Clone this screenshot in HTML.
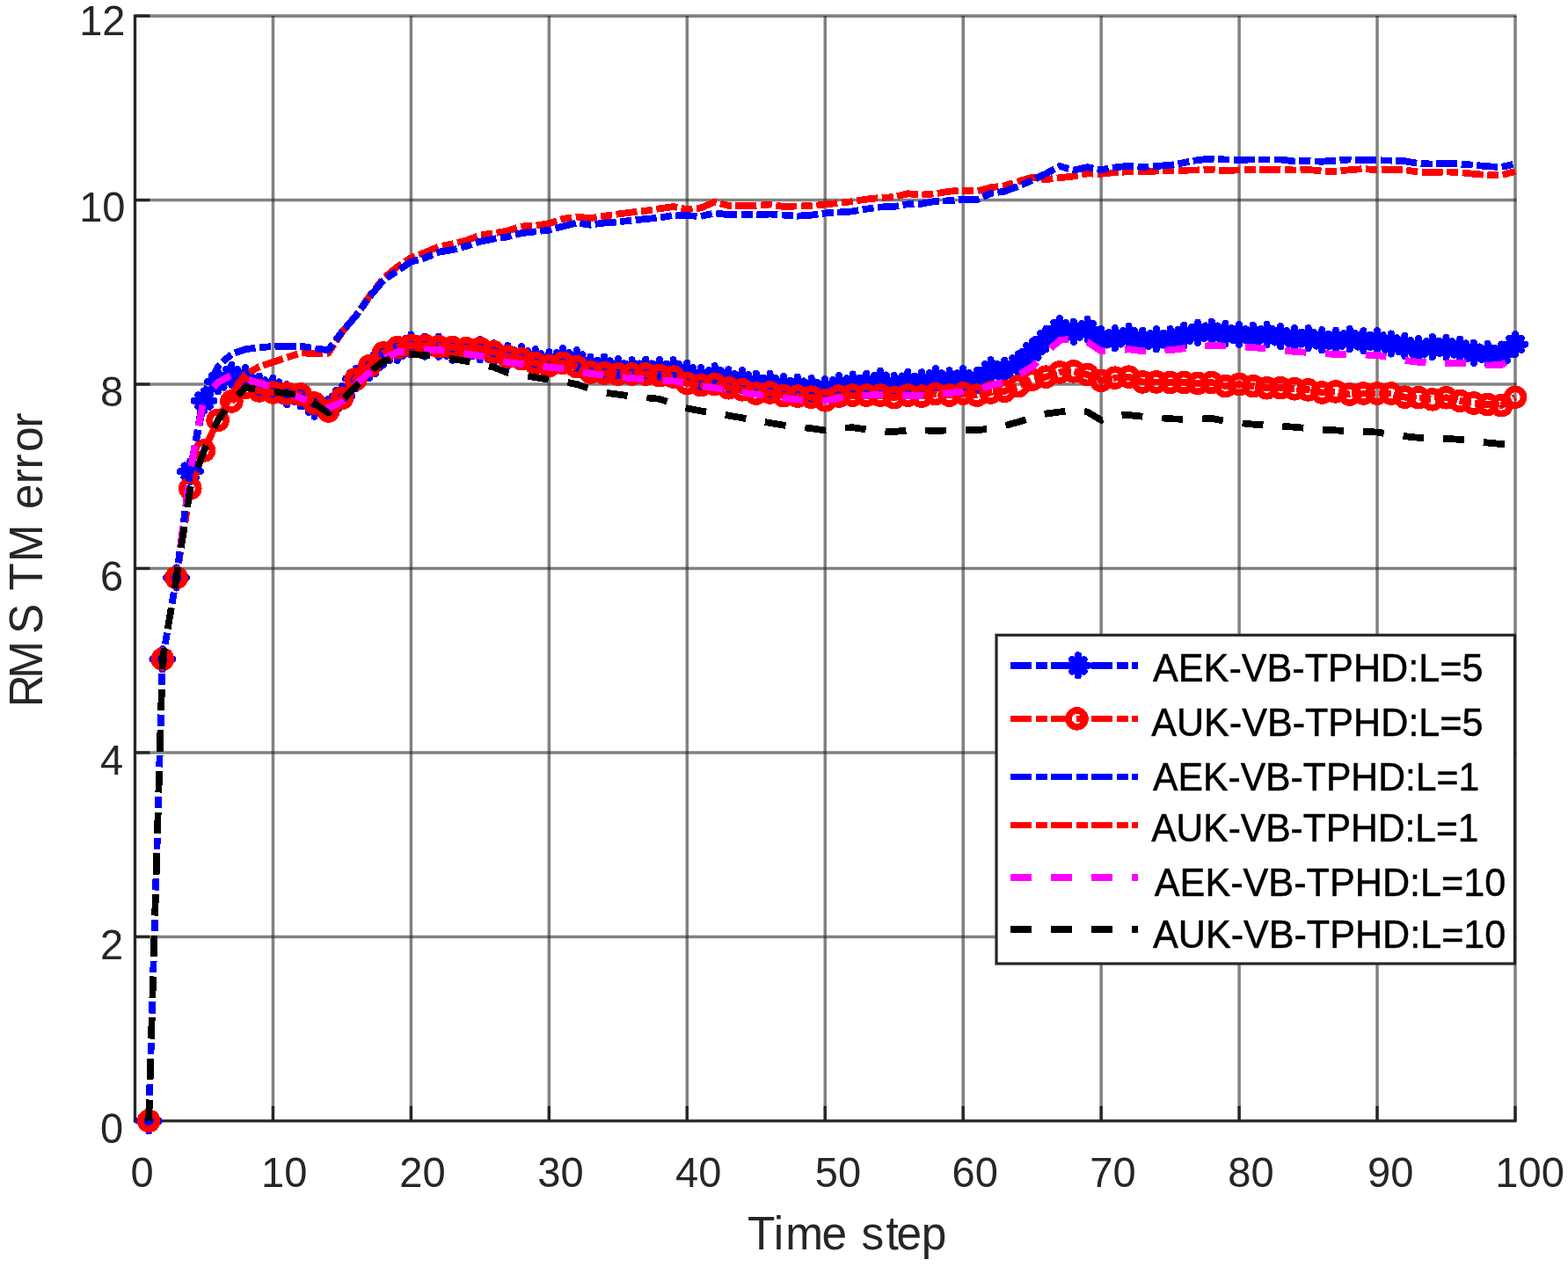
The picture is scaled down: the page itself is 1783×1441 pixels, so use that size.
<!DOCTYPE html>
<html lang="en"><head><meta charset="utf-8"><title>RMS TM error vs Time step</title>
<style>html,body{margin:0;padding:0;background:#fff}body{width:1783px;height:1441px;overflow:hidden}svg{display:block}text{font-family:"Liberation Sans",sans-serif;fill:#262626}</style>
</head><body>
<svg width="1783" height="1441" viewBox="0 0 1783 1441">
<rect x="0" y="0" width="1783" height="1441" fill="#fff"/>
<g stroke="rgba(38,38,38,0.58)" stroke-width="3.5" fill="none">
<line x1="310.45" y1="18.10" x2="310.45" y2="1273.40"/>
<line x1="467.40" y1="18.10" x2="467.40" y2="1273.40"/>
<line x1="624.35" y1="18.10" x2="624.35" y2="1273.40"/>
<line x1="781.30" y1="18.10" x2="781.30" y2="1273.40"/>
<line x1="938.25" y1="18.10" x2="938.25" y2="1273.40"/>
<line x1="1095.20" y1="18.10" x2="1095.20" y2="1273.40"/>
<line x1="1252.15" y1="18.10" x2="1252.15" y2="1273.40"/>
<line x1="1409.10" y1="18.10" x2="1409.10" y2="1273.40"/>
<line x1="1566.05" y1="18.10" x2="1566.05" y2="1273.40"/>
<line x1="1723.00" y1="18.10" x2="1723.00" y2="1273.40"/>
<line x1="155.00" y1="1065.43" x2="1724.50" y2="1065.43"/>
<line x1="155.00" y1="855.97" x2="1724.50" y2="855.97"/>
<line x1="155.00" y1="646.50" x2="1724.50" y2="646.50"/>
<line x1="155.00" y1="437.03" x2="1724.50" y2="437.03"/>
<line x1="155.00" y1="227.57" x2="1724.50" y2="227.57"/>
</g>
<line x1="155.00" y1="18.10" x2="1724.50" y2="18.10" stroke="rgba(38,38,38,0.58)" stroke-width="3.6"/>
<g stroke="#262626" stroke-width="3.3" fill="none" stroke-linecap="butt">
<line x1="153.50" y1="16.60" x2="153.50" y2="1276.50"/>
<line x1="151.90" y1="1274.90" x2="1724.60" y2="1274.90"/>
<line x1="310.45" y1="1274.90" x2="310.45" y2="1257.90"/>
<line x1="467.40" y1="1274.90" x2="467.40" y2="1257.90"/>
<line x1="624.35" y1="1274.90" x2="624.35" y2="1257.90"/>
<line x1="781.30" y1="1274.90" x2="781.30" y2="1257.90"/>
<line x1="938.25" y1="1274.90" x2="938.25" y2="1257.90"/>
<line x1="1095.20" y1="1274.90" x2="1095.20" y2="1257.90"/>
<line x1="1252.15" y1="1274.90" x2="1252.15" y2="1257.90"/>
<line x1="1409.10" y1="1274.90" x2="1409.10" y2="1257.90"/>
<line x1="1566.05" y1="1274.90" x2="1566.05" y2="1257.90"/>
<line x1="1723.00" y1="1274.90" x2="1723.00" y2="1257.90"/>
<line x1="153.50" y1="1065.43" x2="170.50" y2="1065.43"/>
<line x1="153.50" y1="855.97" x2="170.50" y2="855.97"/>
<line x1="153.50" y1="646.50" x2="170.50" y2="646.50"/>
<line x1="153.50" y1="437.03" x2="170.50" y2="437.03"/>
<line x1="153.50" y1="227.57" x2="170.50" y2="227.57"/>
<line x1="153.50" y1="18.10" x2="170.50" y2="18.10"/>
</g>
<g shape-rendering="crispEdges">
<path d="M169.2 1274.9 L184.9 749.7 L200.6 657.0 L216.3 536.2 L232.0 455.9" fill="none" stroke="#0000ff" stroke-width="7.8" stroke-dasharray="24.37 4.57 13.20 4.57" stroke-dashoffset="0.00" stroke-linejoin="round"/><path d="M232.0 455.9 L247.7 433.9 L263.4 426.6 L279.1 429.7 L294.8 439.1 L310.4 441.2 L326.1 448.6 L341.8 450.6 L357.5 462.2 L373.2 465.3 L388.9 450.6 L404.6 430.7 L420.3 418.2 L436.0 403.5 L451.7 398.3 L467.4 392.0 L483.1 394.1 L498.8 394.1 L514.5 398.3 L530.2 398.3 L545.9 397.8 L561.6 401.9 L577.3 404.6 L593.0 405.6 L608.7 408.8 L624.4 411.9 L640.0 407.7 L655.7 409.8 L671.4 417.1 L687.1 417.1 L702.8 419.8 L718.5 420.8 L734.2 420.3 L749.9 420.8 L765.6 420.8 L781.3 424.5 L797.0 429.7 L812.7 427.6 L828.4 431.8 L844.1 432.8 L859.8 436.5 L875.5 436.5 L891.2 439.7 L906.9 440.2 L922.6 441.7 L938.2 442.8 L953.9 438.6 L969.6 437.0 L985.3 436.5 L1001.0 433.4 L1016.7 438.6 L1032.4 434.4 L1048.1 434.9 L1063.8 430.7 L1079.5 432.8 L1095.2 430.7 L1110.9 432.8 L1126.6 420.8 L1142.3 421.3 L1158.0 414.0 L1173.7 399.9 L1189.4 385.7 L1205.1 373.5 L1220.8 377.3 L1236.5 374.7 L1252.2 385.7 L1267.8 384.7 L1283.5 382.6 L1299.2 387.3 L1314.9 385.7 L1330.6 385.7 L1346.3 381.5 L1362.0 378.4 L1377.7 377.3 L1393.4 379.4 L1409.1 380.5 L1424.8 381.5 L1440.5 380.5 L1456.2 382.6 L1471.9 384.7 L1487.6 384.7 L1503.3 386.8 L1519.0 387.3 L1534.7 385.7 L1550.4 387.8 L1566.0 387.8 L1581.7 391.0 L1597.4 393.6 L1613.1 396.7 L1628.8 394.6 L1644.5 395.1 L1660.2 397.2 L1675.9 401.4 L1691.6 402.5 L1707.3 403.0 L1723.0 391.5" fill="none" stroke="#0000ff" stroke-width="7.8" stroke-dasharray="24.10 4.52 13.06 4.52" stroke-dashoffset="37.76" stroke-linejoin="round"/>
<path d="M157.7 1274.9h23.0M169.2 1263.3v23.2M162.5 1268.2l13.4 13.4M162.5 1281.6l13.4 -13.4M173.4 749.7h23.0M184.9 738.1v23.2M178.2 743.0l13.4 13.4M178.2 756.4l13.4 -13.4M189.1 657.0h23.0M200.6 645.4v23.2M193.9 650.3l13.4 13.4M193.9 663.7l13.4 -13.4M204.8 536.2h23.0M216.3 524.6v23.2M209.6 529.5l13.4 13.4M209.6 542.9l13.4 -13.4M220.5 455.9h23.0M232.0 444.3v23.2M225.3 449.2l13.4 13.4M225.3 462.6l13.4 -13.4M236.2 433.9h23.0M247.7 422.3v23.2M241.0 427.2l13.4 13.4M241.0 440.6l13.4 -13.4M251.9 426.6h23.0M263.4 415.0v23.2M256.7 419.9l13.4 13.4M256.7 433.3l13.4 -13.4M267.6 429.7h23.0M279.1 418.1v23.2M272.4 423.0l13.4 13.4M272.4 436.4l13.4 -13.4M283.3 439.1h23.0M294.8 427.5v23.2M288.1 432.4l13.4 13.4M288.1 445.8l13.4 -13.4M298.9 441.2h23.0M310.4 429.6v23.2M303.8 434.5l13.4 13.4M303.8 447.9l13.4 -13.4M314.6 448.6h23.0M326.1 437.0v23.2M319.4 441.9l13.4 13.4M319.4 455.3l13.4 -13.4M330.3 450.6h23.0M341.8 439.0v23.2M335.1 443.9l13.4 13.4M335.1 457.3l13.4 -13.4M346.0 462.2h23.0M357.5 450.6v23.2M350.8 455.5l13.4 13.4M350.8 468.9l13.4 -13.4M361.7 465.3h23.0M373.2 453.7v23.2M366.5 458.6l13.4 13.4M366.5 472.0l13.4 -13.4M377.4 450.6h23.0M388.9 439.0v23.2M382.2 443.9l13.4 13.4M382.2 457.3l13.4 -13.4M393.1 430.7h23.0M404.6 419.1v23.2M397.9 424.0l13.4 13.4M397.9 437.4l13.4 -13.4M408.8 418.2h23.0M420.3 406.6v23.2M413.6 411.5l13.4 13.4M413.6 424.9l13.4 -13.4M424.5 403.5h23.0M436.0 391.9v23.2M429.3 396.8l13.4 13.4M429.3 410.2l13.4 -13.4M440.2 398.3h23.0M451.7 386.7v23.2M445.0 391.6l13.4 13.4M445.0 405.0l13.4 -13.4M455.9 392.0h23.0M467.4 380.4v23.2M460.7 385.3l13.4 13.4M460.7 398.7l13.4 -13.4M471.6 394.1h23.0M483.1 382.5v23.2M476.4 387.4l13.4 13.4M476.4 400.8l13.4 -13.4M487.3 394.1h23.0M498.8 382.5v23.2M492.1 387.4l13.4 13.4M492.1 400.8l13.4 -13.4M503.0 398.3h23.0M514.5 386.7v23.2M507.8 391.6l13.4 13.4M507.8 405.0l13.4 -13.4M518.7 398.3h23.0M530.2 386.7v23.2M523.5 391.6l13.4 13.4M523.5 405.0l13.4 -13.4M534.4 397.8h23.0M545.9 386.2v23.2M539.2 391.1l13.4 13.4M539.2 404.5l13.4 -13.4M550.1 401.9h23.0M561.6 390.3v23.2M554.9 395.2l13.4 13.4M554.9 408.6l13.4 -13.4M565.8 404.6h23.0M577.3 393.0v23.2M570.6 397.9l13.4 13.4M570.6 411.3l13.4 -13.4M581.5 405.6h23.0M593.0 394.0v23.2M586.3 398.9l13.4 13.4M586.3 412.3l13.4 -13.4M597.2 408.8h23.0M608.7 397.2v23.2M602.0 402.1l13.4 13.4M602.0 415.5l13.4 -13.4M612.9 411.9h23.0M624.4 400.3v23.2M617.6 405.2l13.4 13.4M617.6 418.6l13.4 -13.4M628.5 407.7h23.0M640.0 396.1v23.2M633.3 401.0l13.4 13.4M633.3 414.4l13.4 -13.4M644.2 409.8h23.0M655.7 398.2v23.2M649.0 403.1l13.4 13.4M649.0 416.5l13.4 -13.4M659.9 417.1h23.0M671.4 405.5v23.2M664.7 410.4l13.4 13.4M664.7 423.8l13.4 -13.4M675.6 417.1h23.0M687.1 405.5v23.2M680.4 410.4l13.4 13.4M680.4 423.8l13.4 -13.4M691.3 419.8h23.0M702.8 408.2v23.2M696.1 413.1l13.4 13.4M696.1 426.5l13.4 -13.4M707.0 420.8h23.0M718.5 409.2v23.2M711.8 414.1l13.4 13.4M711.8 427.5l13.4 -13.4M722.7 420.3h23.0M734.2 408.7v23.2M727.5 413.6l13.4 13.4M727.5 427.0l13.4 -13.4M738.4 420.8h23.0M749.9 409.2v23.2M743.2 414.1l13.4 13.4M743.2 427.5l13.4 -13.4M754.1 420.8h23.0M765.6 409.2v23.2M758.9 414.1l13.4 13.4M758.9 427.5l13.4 -13.4M769.8 424.5h23.0M781.3 412.9v23.2M774.6 417.8l13.4 13.4M774.6 431.2l13.4 -13.4M785.5 429.7h23.0M797.0 418.1v23.2M790.3 423.0l13.4 13.4M790.3 436.4l13.4 -13.4M801.2 427.6h23.0M812.7 416.0v23.2M806.0 420.9l13.4 13.4M806.0 434.3l13.4 -13.4M816.9 431.8h23.0M828.4 420.2v23.2M821.7 425.1l13.4 13.4M821.7 438.5l13.4 -13.4M832.6 432.8h23.0M844.1 421.2v23.2M837.4 426.1l13.4 13.4M837.4 439.5l13.4 -13.4M848.3 436.5h23.0M859.8 424.9v23.2M853.1 429.8l13.4 13.4M853.1 443.2l13.4 -13.4M864.0 436.5h23.0M875.5 424.9v23.2M868.8 429.8l13.4 13.4M868.8 443.2l13.4 -13.4M879.7 439.7h23.0M891.2 428.1v23.2M884.5 433.0l13.4 13.4M884.5 446.4l13.4 -13.4M895.4 440.2h23.0M906.9 428.6v23.2M900.2 433.5l13.4 13.4M900.2 446.9l13.4 -13.4M911.1 441.7h23.0M922.6 430.1v23.2M915.9 435.0l13.4 13.4M915.9 448.4l13.4 -13.4M926.8 442.8h23.0M938.2 431.2v23.2M931.5 436.1l13.4 13.4M931.5 449.5l13.4 -13.4M942.4 438.6h23.0M953.9 427.0v23.2M947.2 431.9l13.4 13.4M947.2 445.3l13.4 -13.4M958.1 437.0h23.0M969.6 425.4v23.2M962.9 430.3l13.4 13.4M962.9 443.7l13.4 -13.4M973.8 436.5h23.0M985.3 424.9v23.2M978.6 429.8l13.4 13.4M978.6 443.2l13.4 -13.4M989.5 433.4h23.0M1001.0 421.8v23.2M994.3 426.7l13.4 13.4M994.3 440.1l13.4 -13.4M1005.2 438.6h23.0M1016.7 427.0v23.2M1010.0 431.9l13.4 13.4M1010.0 445.3l13.4 -13.4M1020.9 434.4h23.0M1032.4 422.8v23.2M1025.7 427.7l13.4 13.4M1025.7 441.1l13.4 -13.4M1036.6 434.9h23.0M1048.1 423.3v23.2M1041.4 428.2l13.4 13.4M1041.4 441.6l13.4 -13.4M1052.3 430.7h23.0M1063.8 419.1v23.2M1057.1 424.0l13.4 13.4M1057.1 437.4l13.4 -13.4M1068.0 432.8h23.0M1079.5 421.2v23.2M1072.8 426.1l13.4 13.4M1072.8 439.5l13.4 -13.4M1083.7 430.7h23.0M1095.2 419.1v23.2M1088.5 424.0l13.4 13.4M1088.5 437.4l13.4 -13.4M1099.4 432.8h23.0M1110.9 421.2v23.2M1104.2 426.1l13.4 13.4M1104.2 439.5l13.4 -13.4M1115.1 420.8h23.0M1126.6 409.2v23.2M1119.9 414.1l13.4 13.4M1119.9 427.5l13.4 -13.4M1130.8 421.3h23.0M1142.3 409.7v23.2M1135.6 414.6l13.4 13.4M1135.6 428.0l13.4 -13.4M1146.5 414.0h23.0M1158.0 402.4v23.2M1151.3 407.3l13.4 13.4M1151.3 420.7l13.4 -13.4M1162.2 399.9h23.0M1173.7 388.3v23.2M1167.0 393.2l13.4 13.4M1167.0 406.6l13.4 -13.4M1177.9 385.7h23.0M1189.4 374.1v23.2M1182.7 379.0l13.4 13.4M1182.7 392.4l13.4 -13.4M1193.6 373.5h23.0M1205.1 361.9v23.2M1198.4 366.8l13.4 13.4M1198.4 380.2l13.4 -13.4M1209.3 377.3h23.0M1220.8 365.7v23.2M1214.1 370.6l13.4 13.4M1214.1 384.0l13.4 -13.4M1225.0 374.7h23.0M1236.5 363.1v23.2M1229.8 368.0l13.4 13.4M1229.8 381.4l13.4 -13.4M1240.7 385.7h23.0M1252.2 374.1v23.2M1245.5 379.0l13.4 13.4M1245.5 392.4l13.4 -13.4M1256.3 384.7h23.0M1267.8 373.1v23.2M1261.1 378.0l13.4 13.4M1261.1 391.4l13.4 -13.4M1272.0 382.6h23.0M1283.5 371.0v23.2M1276.8 375.9l13.4 13.4M1276.8 389.3l13.4 -13.4M1287.7 387.3h23.0M1299.2 375.7v23.2M1292.5 380.6l13.4 13.4M1292.5 394.0l13.4 -13.4M1303.4 385.7h23.0M1314.9 374.1v23.2M1308.2 379.0l13.4 13.4M1308.2 392.4l13.4 -13.4M1319.1 385.7h23.0M1330.6 374.1v23.2M1323.9 379.0l13.4 13.4M1323.9 392.4l13.4 -13.4M1334.8 381.5h23.0M1346.3 369.9v23.2M1339.6 374.8l13.4 13.4M1339.6 388.2l13.4 -13.4M1350.5 378.4h23.0M1362.0 366.8v23.2M1355.3 371.7l13.4 13.4M1355.3 385.1l13.4 -13.4M1366.2 377.3h23.0M1377.7 365.7v23.2M1371.0 370.6l13.4 13.4M1371.0 384.0l13.4 -13.4M1381.9 379.4h23.0M1393.4 367.8v23.2M1386.7 372.7l13.4 13.4M1386.7 386.1l13.4 -13.4M1397.6 380.5h23.0M1409.1 368.9v23.2M1402.4 373.8l13.4 13.4M1402.4 387.2l13.4 -13.4M1413.3 381.5h23.0M1424.8 369.9v23.2M1418.1 374.8l13.4 13.4M1418.1 388.2l13.4 -13.4M1429.0 380.5h23.0M1440.5 368.9v23.2M1433.8 373.8l13.4 13.4M1433.8 387.2l13.4 -13.4M1444.7 382.6h23.0M1456.2 371.0v23.2M1449.5 375.9l13.4 13.4M1449.5 389.3l13.4 -13.4M1460.4 384.7h23.0M1471.9 373.1v23.2M1465.2 378.0l13.4 13.4M1465.2 391.4l13.4 -13.4M1476.1 384.7h23.0M1487.6 373.1v23.2M1480.9 378.0l13.4 13.4M1480.9 391.4l13.4 -13.4M1491.8 386.8h23.0M1503.3 375.2v23.2M1496.6 380.1l13.4 13.4M1496.6 393.5l13.4 -13.4M1507.5 387.3h23.0M1519.0 375.7v23.2M1512.3 380.6l13.4 13.4M1512.3 394.0l13.4 -13.4M1523.2 385.7h23.0M1534.7 374.1v23.2M1528.0 379.0l13.4 13.4M1528.0 392.4l13.4 -13.4M1538.9 387.8h23.0M1550.4 376.2v23.2M1543.7 381.1l13.4 13.4M1543.7 394.5l13.4 -13.4M1554.5 387.8h23.0M1566.0 376.2v23.2M1559.3 381.1l13.4 13.4M1559.3 394.5l13.4 -13.4M1570.2 391.0h23.0M1581.7 379.4v23.2M1575.0 384.3l13.4 13.4M1575.0 397.7l13.4 -13.4M1585.9 393.6h23.0M1597.4 382.0v23.2M1590.7 386.9l13.4 13.4M1590.7 400.3l13.4 -13.4M1601.6 396.7h23.0M1613.1 385.1v23.2M1606.4 390.0l13.4 13.4M1606.4 403.4l13.4 -13.4M1617.3 394.6h23.0M1628.8 383.0v23.2M1622.1 387.9l13.4 13.4M1622.1 401.3l13.4 -13.4M1633.0 395.1h23.0M1644.5 383.5v23.2M1637.8 388.4l13.4 13.4M1637.8 401.8l13.4 -13.4M1648.7 397.2h23.0M1660.2 385.6v23.2M1653.5 390.5l13.4 13.4M1653.5 403.9l13.4 -13.4M1664.4 401.4h23.0M1675.9 389.8v23.2M1669.2 394.7l13.4 13.4M1669.2 408.1l13.4 -13.4M1680.1 402.5h23.0M1691.6 390.9v23.2M1684.9 395.8l13.4 13.4M1684.9 409.2l13.4 -13.4M1695.8 403.0h23.0M1707.3 391.4v23.2M1700.6 396.3l13.4 13.4M1700.6 409.7l13.4 -13.4M1711.5 391.5h23.0M1723.0 379.9v23.2M1716.3 384.8l13.4 13.4M1716.3 398.2l13.4 -13.4" fill="none" stroke="#0000ff" stroke-width="8.0" stroke-linecap="round"/>
<path d="M169.2 1274.9 L184.9 749.7 L200.6 657.0 L216.3 555.6 L232.0 512.4" fill="none" stroke="#ff0000" stroke-width="7.8" stroke-dasharray="24.37 4.57 13.20 4.57" stroke-dashoffset="0.00" stroke-linejoin="round"/><path d="M232.0 512.4 L247.7 477.9 L263.4 456.4 L279.1 440.7 L294.8 444.4 L310.4 446.5 L326.1 447.5 L341.8 448.6 L357.5 458.5 L373.2 467.4 L388.9 452.7 L404.6 431.3 L420.3 416.1 L436.0 401.4 L451.7 395.1 L467.4 393.0 L483.1 393.0 L498.8 394.1 L514.5 395.1 L530.2 396.2 L545.9 396.2 L561.6 400.4 L577.3 405.6 L593.0 408.2 L608.7 412.9 L624.4 416.1 L640.0 412.9 L655.7 417.1 L671.4 423.4 L687.1 424.5 L702.8 425.5 L718.5 425.5 L734.2 425.5 L749.9 427.1 L765.6 428.7 L781.3 436.0 L797.0 438.1 L812.7 437.0 L828.4 441.2 L844.1 443.3 L859.8 447.5 L875.5 446.5 L891.2 450.1 L906.9 450.6 L922.6 451.7 L938.2 455.4 L953.9 450.6 L969.6 449.6 L985.3 449.6 L1001.0 449.6 L1016.7 452.2 L1032.4 449.6 L1048.1 450.6 L1063.8 448.0 L1079.5 449.6 L1095.2 447.5 L1110.9 449.6 L1126.6 446.5 L1142.3 444.9 L1158.0 439.1 L1173.7 431.8 L1189.4 428.7 L1205.1 423.4 L1220.8 422.4 L1236.5 426.0 L1252.2 432.8 L1267.8 429.7 L1283.5 428.7 L1299.2 434.4 L1314.9 434.4 L1330.6 434.9 L1346.3 434.9 L1362.0 436.0 L1377.7 434.9 L1393.4 439.1 L1409.1 437.0 L1424.8 439.1 L1440.5 441.2 L1456.2 441.2 L1471.9 442.3 L1487.6 443.3 L1503.3 446.5 L1519.0 445.4 L1534.7 448.6 L1550.4 447.5 L1566.0 447.5 L1581.7 447.5 L1597.4 451.7 L1613.1 452.2 L1628.8 454.3 L1644.5 452.2 L1660.2 455.9 L1675.9 458.5 L1691.6 460.1 L1707.3 461.1 L1723.0 451.7" fill="none" stroke="#ff0000" stroke-width="7.8" stroke-dasharray="24.10 4.52 13.06 4.52" stroke-dashoffset="28.84" stroke-linejoin="round"/>
<path d="M159.75 1274.90a9.45 9.45 0 1 0 18.90 0a9.45 9.45 0 1 0 -18.90 0zM175.44 749.66a9.45 9.45 0 1 0 18.90 0a9.45 9.45 0 1 0 -18.90 0zM191.14 656.97a9.45 9.45 0 1 0 18.90 0a9.45 9.45 0 1 0 -18.90 0zM206.83 555.59a9.45 9.45 0 1 0 18.90 0a9.45 9.45 0 1 0 -18.90 0zM222.53 512.44a9.45 9.45 0 1 0 18.90 0a9.45 9.45 0 1 0 -18.90 0zM238.22 477.88a9.45 9.45 0 1 0 18.90 0a9.45 9.45 0 1 0 -18.90 0zM253.92 456.41a9.45 9.45 0 1 0 18.90 0a9.45 9.45 0 1 0 -18.90 0zM269.61 440.70a9.45 9.45 0 1 0 18.90 0a9.45 9.45 0 1 0 -18.90 0zM285.31 444.36a9.45 9.45 0 1 0 18.90 0a9.45 9.45 0 1 0 -18.90 0zM301.00 446.46a9.45 9.45 0 1 0 18.90 0a9.45 9.45 0 1 0 -18.90 0zM316.69 447.51a9.45 9.45 0 1 0 18.90 0a9.45 9.45 0 1 0 -18.90 0zM332.39 448.55a9.45 9.45 0 1 0 18.90 0a9.45 9.45 0 1 0 -18.90 0zM348.08 458.50a9.45 9.45 0 1 0 18.90 0a9.45 9.45 0 1 0 -18.90 0zM363.78 467.41a9.45 9.45 0 1 0 18.90 0a9.45 9.45 0 1 0 -18.90 0zM379.48 452.74a9.45 9.45 0 1 0 18.90 0a9.45 9.45 0 1 0 -18.90 0zM395.17 431.27a9.45 9.45 0 1 0 18.90 0a9.45 9.45 0 1 0 -18.90 0zM410.87 416.09a9.45 9.45 0 1 0 18.90 0a9.45 9.45 0 1 0 -18.90 0zM426.56 401.42a9.45 9.45 0 1 0 18.90 0a9.45 9.45 0 1 0 -18.90 0zM442.25 395.14a9.45 9.45 0 1 0 18.90 0a9.45 9.45 0 1 0 -18.90 0zM457.95 393.05a9.45 9.45 0 1 0 18.90 0a9.45 9.45 0 1 0 -18.90 0zM473.65 393.05a9.45 9.45 0 1 0 18.90 0a9.45 9.45 0 1 0 -18.90 0zM489.34 394.09a9.45 9.45 0 1 0 18.90 0a9.45 9.45 0 1 0 -18.90 0zM505.04 395.14a9.45 9.45 0 1 0 18.90 0a9.45 9.45 0 1 0 -18.90 0zM520.73 396.19a9.45 9.45 0 1 0 18.90 0a9.45 9.45 0 1 0 -18.90 0zM536.42 396.19a9.45 9.45 0 1 0 18.90 0a9.45 9.45 0 1 0 -18.90 0zM552.12 400.38a9.45 9.45 0 1 0 18.90 0a9.45 9.45 0 1 0 -18.90 0zM567.81 405.61a9.45 9.45 0 1 0 18.90 0a9.45 9.45 0 1 0 -18.90 0zM583.51 408.23a9.45 9.45 0 1 0 18.90 0a9.45 9.45 0 1 0 -18.90 0zM599.20 412.94a9.45 9.45 0 1 0 18.90 0a9.45 9.45 0 1 0 -18.90 0zM614.90 416.09a9.45 9.45 0 1 0 18.90 0a9.45 9.45 0 1 0 -18.90 0zM630.60 412.94a9.45 9.45 0 1 0 18.90 0a9.45 9.45 0 1 0 -18.90 0zM646.29 417.13a9.45 9.45 0 1 0 18.90 0a9.45 9.45 0 1 0 -18.90 0zM661.98 423.42a9.45 9.45 0 1 0 18.90 0a9.45 9.45 0 1 0 -18.90 0zM677.68 424.47a9.45 9.45 0 1 0 18.90 0a9.45 9.45 0 1 0 -18.90 0zM693.38 425.51a9.45 9.45 0 1 0 18.90 0a9.45 9.45 0 1 0 -18.90 0zM709.07 425.51a9.45 9.45 0 1 0 18.90 0a9.45 9.45 0 1 0 -18.90 0zM724.76 425.51a9.45 9.45 0 1 0 18.90 0a9.45 9.45 0 1 0 -18.90 0zM740.46 427.08a9.45 9.45 0 1 0 18.90 0a9.45 9.45 0 1 0 -18.90 0zM756.15 428.65a9.45 9.45 0 1 0 18.90 0a9.45 9.45 0 1 0 -18.90 0zM771.85 435.99a9.45 9.45 0 1 0 18.90 0a9.45 9.45 0 1 0 -18.90 0zM787.54 438.08a9.45 9.45 0 1 0 18.90 0a9.45 9.45 0 1 0 -18.90 0zM803.24 437.03a9.45 9.45 0 1 0 18.90 0a9.45 9.45 0 1 0 -18.90 0zM818.93 441.22a9.45 9.45 0 1 0 18.90 0a9.45 9.45 0 1 0 -18.90 0zM834.63 443.32a9.45 9.45 0 1 0 18.90 0a9.45 9.45 0 1 0 -18.90 0zM850.32 447.51a9.45 9.45 0 1 0 18.90 0a9.45 9.45 0 1 0 -18.90 0zM866.02 446.46a9.45 9.45 0 1 0 18.90 0a9.45 9.45 0 1 0 -18.90 0zM881.71 450.12a9.45 9.45 0 1 0 18.90 0a9.45 9.45 0 1 0 -18.90 0zM897.41 450.65a9.45 9.45 0 1 0 18.90 0a9.45 9.45 0 1 0 -18.90 0zM913.10 451.70a9.45 9.45 0 1 0 18.90 0a9.45 9.45 0 1 0 -18.90 0zM928.80 455.36a9.45 9.45 0 1 0 18.90 0a9.45 9.45 0 1 0 -18.90 0zM944.50 450.65a9.45 9.45 0 1 0 18.90 0a9.45 9.45 0 1 0 -18.90 0zM960.19 449.60a9.45 9.45 0 1 0 18.90 0a9.45 9.45 0 1 0 -18.90 0zM975.88 449.60a9.45 9.45 0 1 0 18.90 0a9.45 9.45 0 1 0 -18.90 0zM991.58 449.60a9.45 9.45 0 1 0 18.90 0a9.45 9.45 0 1 0 -18.90 0zM1007.27 452.22a9.45 9.45 0 1 0 18.90 0a9.45 9.45 0 1 0 -18.90 0zM1022.97 449.60a9.45 9.45 0 1 0 18.90 0a9.45 9.45 0 1 0 -18.90 0zM1038.66 450.65a9.45 9.45 0 1 0 18.90 0a9.45 9.45 0 1 0 -18.90 0zM1054.36 448.03a9.45 9.45 0 1 0 18.90 0a9.45 9.45 0 1 0 -18.90 0zM1070.06 449.60a9.45 9.45 0 1 0 18.90 0a9.45 9.45 0 1 0 -18.90 0zM1085.75 447.51a9.45 9.45 0 1 0 18.90 0a9.45 9.45 0 1 0 -18.90 0zM1101.44 449.60a9.45 9.45 0 1 0 18.90 0a9.45 9.45 0 1 0 -18.90 0zM1117.14 446.46a9.45 9.45 0 1 0 18.90 0a9.45 9.45 0 1 0 -18.90 0zM1132.83 444.89a9.45 9.45 0 1 0 18.90 0a9.45 9.45 0 1 0 -18.90 0zM1148.53 439.13a9.45 9.45 0 1 0 18.90 0a9.45 9.45 0 1 0 -18.90 0zM1164.22 431.80a9.45 9.45 0 1 0 18.90 0a9.45 9.45 0 1 0 -18.90 0zM1179.92 428.65a9.45 9.45 0 1 0 18.90 0a9.45 9.45 0 1 0 -18.90 0zM1195.62 423.42a9.45 9.45 0 1 0 18.90 0a9.45 9.45 0 1 0 -18.90 0zM1211.31 422.37a9.45 9.45 0 1 0 18.90 0a9.45 9.45 0 1 0 -18.90 0zM1227.00 426.04a9.45 9.45 0 1 0 18.90 0a9.45 9.45 0 1 0 -18.90 0zM1242.70 432.84a9.45 9.45 0 1 0 18.90 0a9.45 9.45 0 1 0 -18.90 0zM1258.39 429.70a9.45 9.45 0 1 0 18.90 0a9.45 9.45 0 1 0 -18.90 0zM1274.09 428.65a9.45 9.45 0 1 0 18.90 0a9.45 9.45 0 1 0 -18.90 0zM1289.78 434.41a9.45 9.45 0 1 0 18.90 0a9.45 9.45 0 1 0 -18.90 0zM1305.48 434.41a9.45 9.45 0 1 0 18.90 0a9.45 9.45 0 1 0 -18.90 0zM1321.17 434.94a9.45 9.45 0 1 0 18.90 0a9.45 9.45 0 1 0 -18.90 0zM1336.87 434.94a9.45 9.45 0 1 0 18.90 0a9.45 9.45 0 1 0 -18.90 0zM1352.57 435.99a9.45 9.45 0 1 0 18.90 0a9.45 9.45 0 1 0 -18.90 0zM1368.26 434.94a9.45 9.45 0 1 0 18.90 0a9.45 9.45 0 1 0 -18.90 0zM1383.95 439.13a9.45 9.45 0 1 0 18.90 0a9.45 9.45 0 1 0 -18.90 0zM1399.65 437.03a9.45 9.45 0 1 0 18.90 0a9.45 9.45 0 1 0 -18.90 0zM1415.35 439.13a9.45 9.45 0 1 0 18.90 0a9.45 9.45 0 1 0 -18.90 0zM1431.04 441.22a9.45 9.45 0 1 0 18.90 0a9.45 9.45 0 1 0 -18.90 0zM1446.73 441.22a9.45 9.45 0 1 0 18.90 0a9.45 9.45 0 1 0 -18.90 0zM1462.43 442.27a9.45 9.45 0 1 0 18.90 0a9.45 9.45 0 1 0 -18.90 0zM1478.12 443.32a9.45 9.45 0 1 0 18.90 0a9.45 9.45 0 1 0 -18.90 0zM1493.82 446.46a9.45 9.45 0 1 0 18.90 0a9.45 9.45 0 1 0 -18.90 0zM1509.51 445.41a9.45 9.45 0 1 0 18.90 0a9.45 9.45 0 1 0 -18.90 0zM1525.21 448.55a9.45 9.45 0 1 0 18.90 0a9.45 9.45 0 1 0 -18.90 0zM1540.90 447.51a9.45 9.45 0 1 0 18.90 0a9.45 9.45 0 1 0 -18.90 0zM1556.60 447.51a9.45 9.45 0 1 0 18.90 0a9.45 9.45 0 1 0 -18.90 0zM1572.29 447.51a9.45 9.45 0 1 0 18.90 0a9.45 9.45 0 1 0 -18.90 0zM1587.99 451.70a9.45 9.45 0 1 0 18.90 0a9.45 9.45 0 1 0 -18.90 0zM1603.68 452.22a9.45 9.45 0 1 0 18.90 0a9.45 9.45 0 1 0 -18.90 0zM1619.38 454.31a9.45 9.45 0 1 0 18.90 0a9.45 9.45 0 1 0 -18.90 0zM1635.08 452.22a9.45 9.45 0 1 0 18.90 0a9.45 9.45 0 1 0 -18.90 0zM1650.77 455.89a9.45 9.45 0 1 0 18.90 0a9.45 9.45 0 1 0 -18.90 0zM1666.46 458.50a9.45 9.45 0 1 0 18.90 0a9.45 9.45 0 1 0 -18.90 0zM1682.16 460.07a9.45 9.45 0 1 0 18.90 0a9.45 9.45 0 1 0 -18.90 0zM1697.86 461.12a9.45 9.45 0 1 0 18.90 0a9.45 9.45 0 1 0 -18.90 0zM1713.55 451.70a9.45 9.45 0 1 0 18.90 0a9.45 9.45 0 1 0 -18.90 0z" fill="none" stroke="#ff0000" stroke-width="7.7"/>
<path d="M169.2 1274.9 L184.9 749.7 L200.6 657.0 L216.3 555.6 L232.0 512.4" fill="none" stroke="#ff0000" stroke-width="7.8" stroke-dasharray="24.37 4.57 13.20 4.57" stroke-dashoffset="0.00" stroke-linejoin="round"/><path d="M232.0 512.4 L247.7 477.9 L263.4 448.6 L279.1 425.5 L294.8 417.1 L310.4 411.9 L326.1 406.7 L341.8 401.4 L357.5 401.9 L373.2 401.9 L388.9 377.9 L404.6 359.0 L420.3 336.5 L436.0 316.6 L451.7 303.5 L467.4 293.0 L483.1 287.3 L498.8 280.5 L514.5 277.3 L530.2 273.6 L545.9 267.4 L561.6 265.3 L577.3 262.5 L593.0 257.5 L608.7 256.7 L624.4 254.1 L640.0 249.0 L655.7 246.5 L671.4 248.2 L687.1 245.7 L702.8 243.5 L718.5 241.5 L734.2 239.8 L749.9 237.3 L765.6 235.1 L781.3 238.1 L797.0 236.5 L812.7 229.7 L828.4 233.9 L844.1 234.3 L859.8 234.1 L875.5 232.5 L891.2 235.0 L906.9 234.5 L922.6 234.2 L938.2 232.5 L953.9 230.9 L969.6 229.1 L985.3 226.6 L1001.0 224.9 L1016.7 224.1 L1032.4 220.3 L1048.1 221.6 L1063.8 220.3 L1079.5 217.7 L1095.2 216.6 L1110.9 217.4 L1126.6 213.2 L1142.3 211.3 L1158.0 206.2 L1173.7 201.7 L1189.4 204.2 L1205.1 202.2 L1220.8 200.5 L1236.5 197.5 L1252.2 197.8 L1267.8 196.1 L1283.5 195.3 L1299.2 195.0 L1314.9 194.6 L1330.6 194.1 L1346.3 193.7 L1362.0 193.4 L1377.7 193.2 L1393.4 194.1 L1409.1 193.4 L1424.8 193.2 L1440.5 193.2 L1456.2 192.9 L1471.9 193.5 L1487.6 192.9 L1503.3 194.6 L1519.0 195.0 L1534.7 193.2 L1550.4 192.1 L1566.0 193.2 L1581.7 192.7 L1597.4 193.2 L1613.1 195.7 L1628.8 196.1 L1644.5 195.4 L1660.2 196.1 L1675.9 197.8 L1691.6 199.2 L1707.3 199.2 L1723.0 195.0" fill="none" stroke="#ff0000" stroke-width="7.8" stroke-dasharray="24.11 4.52 13.06 4.52" stroke-dashoffset="17.20" stroke-linejoin="round"/>
<path d="M169.2 1274.9 L184.9 749.7 L200.6 657.0 L216.3 536.2 L232.0 447.5" fill="none" stroke="#0000ff" stroke-width="7.8" stroke-dasharray="24.37 4.57 13.20 4.57" stroke-dashoffset="0.00" stroke-linejoin="round"/><path d="M232.0 447.5 L247.7 417.1 L263.4 402.5 L279.1 397.2 L294.8 395.1 L310.4 394.1 L326.1 393.6 L341.8 393.6 L357.5 396.2 L373.2 398.3 L388.9 377.3 L404.6 359.5 L420.3 337.5 L436.0 318.7 L451.7 308.2 L467.4 297.7 L483.1 293.5 L498.8 286.7 L514.5 284.1 L530.2 279.9 L545.9 274.7 L561.6 271.6 L577.3 269.3 L593.0 265.1 L608.7 263.4 L624.4 261.7 L640.0 257.5 L655.7 253.5 L671.4 255.7 L687.1 253.5 L702.8 252.4 L718.5 250.7 L734.2 249.0 L749.9 247.7 L765.6 244.8 L781.3 245.2 L797.0 246.0 L812.7 242.3 L828.4 244.3 L844.1 244.0 L859.8 244.5 L875.5 243.5 L891.2 244.6 L906.9 245.7 L922.6 244.6 L938.2 242.5 L953.9 241.5 L969.6 240.4 L985.3 237.6 L1001.0 235.5 L1016.7 235.0 L1032.4 232.2 L1048.1 231.7 L1063.8 228.8 L1079.5 228.3 L1095.2 226.6 L1110.9 227.1 L1126.6 219.9 L1142.3 217.6 L1158.0 211.9 L1173.7 205.0 L1189.4 197.5 L1205.1 189.0 L1220.8 193.6 L1236.5 190.2 L1252.2 193.2 L1267.8 190.4 L1283.5 188.7 L1299.2 189.9 L1314.9 189.0 L1330.6 187.8 L1346.3 185.1 L1362.0 182.0 L1377.7 180.6 L1393.4 181.5 L1409.1 181.8 L1424.8 181.5 L1440.5 181.5 L1456.2 181.5 L1471.9 183.5 L1487.6 183.2 L1503.3 183.7 L1519.0 182.6 L1534.7 181.5 L1550.4 182.0 L1566.0 182.3 L1581.7 182.6 L1597.4 183.2 L1613.1 186.1 L1628.8 186.5 L1644.5 185.7 L1660.2 186.5 L1675.9 187.7 L1691.6 189.3 L1707.3 189.9 L1723.0 186.5" fill="none" stroke="#0000ff" stroke-width="7.8" stroke-dasharray="24.10 4.52 13.05 4.52" stroke-dashoffset="32.83" stroke-linejoin="round"/>
<path d="M169.2 1274.9 L184.9 749.7 L200.6 657.0 L216.3 536.2 L232.0 451.7" fill="none" stroke="#ff00ff" stroke-width="7.8" stroke-dasharray="24.37 22.33" stroke-dashoffset="0.00" stroke-linejoin="round"/><path d="M232.0 451.7 L247.7 434.9 L263.4 426.6 L279.1 430.7 L294.8 436.0 L310.4 440.2 L326.1 446.5 L341.8 452.7 L357.5 458.0 L373.2 464.3 L388.9 456.9 L404.6 437.0 L420.3 423.4 L436.0 407.7 L451.7 400.4 L467.4 398.3 L483.1 397.8 L498.8 397.8 L514.5 400.4 L530.2 402.5 L545.9 404.6 L561.6 408.8 L577.3 411.9 L593.0 414.0 L608.7 416.1 L624.4 417.7 L640.0 419.2 L655.7 422.4 L671.4 425.0 L687.1 426.6 L702.8 428.7 L718.5 430.2 L734.2 431.3 L749.9 432.3 L765.6 433.4 L781.3 436.0 L797.0 439.1 L812.7 441.2 L828.4 443.8 L844.1 446.5 L859.8 448.6 L875.5 450.6 L891.2 452.7 L906.9 454.3 L922.6 455.9 L938.2 455.9 L953.9 452.7 L969.6 451.2 L985.3 449.6 L1001.0 449.1 L1016.7 450.1 L1032.4 450.1 L1048.1 449.6 L1063.8 448.6 L1079.5 447.0 L1095.2 445.4 L1110.9 443.3 L1126.6 438.6 L1142.3 433.9 L1158.0 426.6 L1173.7 417.1 L1189.4 401.4 L1205.1 386.8 L1220.8 385.7 L1236.5 388.9 L1252.2 399.3 L1267.8 399.3 L1283.5 397.2 L1299.2 399.3 L1314.9 398.8 L1330.6 398.3 L1346.3 396.2 L1362.0 394.1 L1377.7 393.0 L1393.4 393.6 L1409.1 394.1 L1424.8 395.1 L1440.5 396.7 L1456.2 398.3 L1471.9 399.9 L1487.6 400.9 L1503.3 401.9 L1519.0 403.0 L1534.7 403.5 L1550.4 403.5 L1566.0 404.0 L1581.7 406.7 L1597.4 409.8 L1613.1 411.9 L1628.8 412.4 L1644.5 412.9 L1660.2 412.9 L1675.9 414.0 L1691.6 415.6 L1707.3 415.0 L1723.0 405.6" fill="none" stroke="#ff00ff" stroke-width="7.8" stroke-dasharray="23.88 21.89" stroke-dashoffset="30.21" stroke-linejoin="round"/>
<path d="M169.2 1274.9 L184.9 749.7 L200.6 657.0 L216.3 555.6 L232.0 512.4" fill="none" stroke="#000000" stroke-width="7.8" stroke-dasharray="24.37 22.33" stroke-dashoffset="0.00" stroke-linejoin="round"/><path d="M232.0 512.4 L247.7 477.9 L263.4 456.4 L279.1 440.7 L294.8 443.3 L310.4 445.4 L326.1 447.5 L341.8 449.6 L357.5 459.0 L373.2 469.5 L388.9 455.9 L404.6 439.1 L420.3 423.4 L436.0 410.8 L451.7 405.6 L467.4 403.0 L483.1 404.0 L498.8 405.6 L514.5 408.2 L530.2 410.8 L545.9 414.0 L561.6 417.7 L577.3 423.9 L593.0 426.6 L608.7 429.2 L624.4 431.8 L640.0 433.9 L655.7 437.0 L671.4 442.3 L687.1 446.5 L702.8 448.6 L718.5 450.6 L734.2 452.2 L749.9 453.8 L765.6 459.0 L781.3 464.3 L797.0 467.4 L812.7 470.0 L828.4 472.6 L844.1 475.3 L859.8 478.4 L875.5 481.0 L891.2 483.6 L906.9 485.2 L922.6 487.3 L938.2 489.4 L953.9 486.8 L969.6 486.3 L985.3 488.4 L1001.0 490.4 L1016.7 491.0 L1032.4 489.4 L1048.1 489.4 L1063.8 489.9 L1079.5 489.4 L1095.2 488.9 L1110.9 489.4 L1126.6 487.3 L1142.3 484.2 L1158.0 480.0 L1173.7 474.7 L1189.4 470.5 L1205.1 468.5 L1220.8 466.4 L1236.5 468.5 L1252.2 477.9 L1267.8 472.6 L1283.5 472.1 L1299.2 473.7 L1314.9 474.7 L1330.6 476.3 L1346.3 476.8 L1362.0 476.8 L1377.7 475.8 L1393.4 478.9 L1409.1 481.0 L1424.8 482.6 L1440.5 483.6 L1456.2 484.7 L1471.9 485.7 L1487.6 487.3 L1503.3 488.9 L1519.0 489.4 L1534.7 490.4 L1550.4 491.0 L1566.0 491.5 L1581.7 494.1 L1597.4 496.2 L1613.1 497.8 L1628.8 498.3 L1644.5 498.8 L1660.2 499.9 L1675.9 501.4 L1691.6 503.5 L1707.3 505.1 L1723.0 506.2" fill="none" stroke="#000000" stroke-width="7.8" stroke-dasharray="23.95 21.96" stroke-dashoffset="17.73" stroke-linejoin="round"/>
</g>
<g font-size="49.0" text-anchor="middle">
<text transform="translate(161.5,1349.6) scale(0.960,1)">0</text>
<text transform="translate(323.2,1349.6) scale(0.960,1)">10</text>
<text transform="translate(480.5,1349.6) scale(0.960,1)">20</text>
<text transform="translate(637.5,1349.6) scale(0.960,1)">30</text>
<text transform="translate(794.2,1349.6) scale(0.960,1)">40</text>
<text transform="translate(953.0,1349.6) scale(0.960,1)">50</text>
<text transform="translate(1108.7,1349.6) scale(0.960,1)">60</text>
<text transform="translate(1265.4,1349.6) scale(0.960,1)">70</text>
<text transform="translate(1422.5,1349.6) scale(0.960,1)">80</text>
<text transform="translate(1581.2,1349.6) scale(0.960,1)">90</text>
<text transform="translate(1739.6,1349.6) scale(0.960,1)">100</text>
</g>
<g font-size="49.0" text-anchor="end">
<text transform="translate(140.2,1299.8) scale(0.960,1)">0</text>
<text transform="translate(140.2,1090.6) scale(0.960,1)">2</text>
<text transform="translate(140.2,881.0) scale(0.960,1)">4</text>
<text transform="translate(140.2,671.6) scale(0.960,1)">6</text>
<text transform="translate(140.2,461.6) scale(0.960,1)">8</text>
<text transform="translate(142.5,251.8) scale(0.960,1)">10</text>
<text transform="translate(142.5,40.0) scale(0.960,1)">12</text>
</g>
<text transform="translate(851.2,1420.7) scale(0.970,1)" font-size="53.0" x="-1.19 29.44 43.49 85.89 117.32 132.24 161.16 173.42 202.56" y="0">Time step</text>
<text transform="translate(47.9,800) rotate(-90) scale(0.970,1)" font-size="53.0" x="-4.35 29.16 81.36 115.46 132.21 165.76 211.34 227.75 257.41 274.83 294.78 323.18" y="0">RMS TM error</text>
<rect x="1133.0" y="722.3" width="589.5" height="373.7" fill="#fff" stroke="#262626" stroke-width="3.2"/>
<g shape-rendering="crispEdges"><line x1="1148.9" y1="757.2" x2="1294.0" y2="757.2" stroke="#0000ff" stroke-width="7.8" stroke-dasharray="24.1 4.5 13 4.5"/>
<path d="M1214.4 756.9h23.0M1225.9 745.3v23.2M1219.2 750.2l13.4 13.4M1219.2 763.6l13.4 -13.4" fill="none" stroke="#0000ff" stroke-width="8.0" stroke-linecap="round"/>
</g>
<text x="1311.0" y="775.0" font-size="45" textLength="375.5" lengthAdjust="spacingAndGlyphs" style="fill:#000;stroke:#000;stroke-width:0.5">AEK-VB-TPHD:L=5</text>
<g shape-rendering="crispEdges"><line x1="1148.9" y1="817.5" x2="1294.0" y2="817.5" stroke="#ff0000" stroke-width="7.8" stroke-dasharray="24.1 4.5 13 4.5"/>
<path d="M1215.05 817.40a9.45 9.45 0 1 0 18.90 0a9.45 9.45 0 1 0 -18.90 0z" fill="none" stroke="#ff0000" stroke-width="7.7"/>
</g>
<text x="1309.2" y="836.9" font-size="45" textLength="377.3" lengthAdjust="spacingAndGlyphs" style="fill:#000;stroke:#000;stroke-width:0.5">AUK-VB-TPHD:L=5</text>
<g shape-rendering="crispEdges"><line x1="1148.9" y1="883.5" x2="1294.0" y2="883.5" stroke="#0000ff" stroke-width="7.8" stroke-dasharray="24.1 4.5 13 4.5"/>
</g>
<text x="1311.0" y="899.0" font-size="45" textLength="371.3" lengthAdjust="spacingAndGlyphs" style="fill:#000;stroke:#000;stroke-width:0.5">AEK-VB-TPHD:L=1</text>
<g shape-rendering="crispEdges"><line x1="1148.9" y1="938.5" x2="1294.0" y2="938.5" stroke="#ff0000" stroke-width="7.8" stroke-dasharray="24.1 4.5 13 4.5"/>
</g>
<text x="1309.2" y="957.2" font-size="45" textLength="372.3" lengthAdjust="spacingAndGlyphs" style="fill:#000;stroke:#000;stroke-width:0.5">AUK-VB-TPHD:L=1</text>
<g shape-rendering="crispEdges"><line x1="1148.9" y1="998.0" x2="1294.0" y2="998.0" stroke="#ff00ff" stroke-width="7.8" stroke-dasharray="24.1 22"/>
</g>
<text x="1312.8" y="1018.7" font-size="45" textLength="399.5" lengthAdjust="spacingAndGlyphs" style="fill:#000;stroke:#000;stroke-width:0.5">AEK-VB-TPHD:L=10</text>
<g shape-rendering="crispEdges"><line x1="1148.9" y1="1057.0" x2="1294.0" y2="1057.0" stroke="#000000" stroke-width="7.8" stroke-dasharray="24.1 22"/>
</g>
<text x="1311.0" y="1077.5" font-size="45" textLength="401.3" lengthAdjust="spacingAndGlyphs" style="fill:#000;stroke:#000;stroke-width:0.5">AUK-VB-TPHD:L=10</text>
<!--LEGEND-->
</svg>
</body></html>
